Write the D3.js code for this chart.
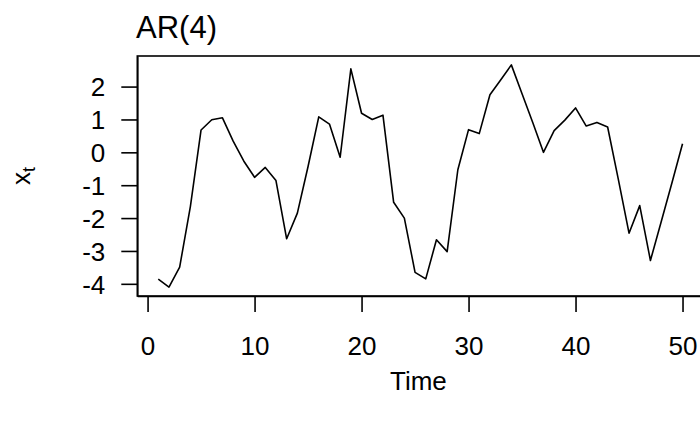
<!DOCTYPE html>
<html>
<head>
<meta charset="utf-8">
<script src="https://cdn.jsdelivr.net/npm/d3@7"></script>
<style>
  html, body { margin: 0; padding: 0; background: #fff; }
  svg { display: block; font-family: "Liberation Sans", Arial, Helvetica, sans-serif; }
</style>
</head>
<body>
<svg id="chart" width="700" height="422"></svg>
<script>
const title = "AR(4)";
const xLabel = "Time";
const time = d3.range(1, 51);
const values = [
  -3.86, -4.10, -3.49, -1.65, 0.68, 0.99, 1.05, 0.34, -0.27, -0.76,
  -0.46, -0.86, -2.63, -1.85, -0.43, 1.08, 0.86, -0.15, 2.54, 1.19,
  1.00, 1.13, -1.52, -2.00, -3.65, -3.85, -2.66, -3.02, -0.53, 0.69,
  0.57, 1.75, 2.20, 2.66, 1.78, 0.91, 0.00, 0.66, 0.98, 1.35,
  0.80, 0.91, 0.77, -0.82, -2.46, -1.62, -3.29, -2.12, -0.94, 0.26
];
const xTicks = [0, 10, 20, 30, 40, 50];
const yTicks = [-4, -3, -2, -1, 0, 1, 2];

const svg = d3.select("#chart");
const pL = 137.3, pR = 703.5, pT = 56, pB = 296;
const lw = 1.6, fs = 26;

function ext(a) {
  const [mn, mx] = d3.extent(a);
  const r = mx - mn;
  return [mn - 0.04 * r, mx + 0.04 * r];
}
const x = d3.scaleLinear().domain(ext(time)).range([pL, pR]);
const y = d3.scaleLinear().domain(ext(values)).range([pB, pT]);

// box
svg.append("rect")
  .attr("x", pL).attr("y", pT)
  .attr("width", pR - pL).attr("height", pB - pT)
  .attr("fill", "none").attr("stroke", "#000").attr("stroke-width", lw);

// series line
const data = time.map((t, i) => [t, values[i]]);
svg.append("path")
  .datum(data)
  .attr("d", d3.line().x(d => x(d[0])).y(d => y(d[1])))
  .attr("fill", "none").attr("stroke", "#000")
  .attr("stroke-width", lw).attr("stroke-linejoin", "round");

const fmt = d => String(d);

// x axis
const xa = svg.append("g").attr("transform", `translate(0,${pB})`)
  .call(d3.axisBottom(x).tickValues(xTicks).tickFormat(fmt).tickSize(16).tickSizeOuter(0).tickPadding(0));
xa.select(".domain").attr("stroke-width", lw);
xa.selectAll(".tick line").attr("stroke-width", lw);
xa.selectAll(".tick text").attr("y", 59).attr("dy", null)
  .attr("font-size", fs).attr("font-family", "Liberation Sans, Arial, sans-serif").attr("fill", "#000");

// y axis
const ya = svg.append("g").attr("transform", `translate(${pL},0)`)
  .call(d3.axisLeft(y).tickValues(yTicks).tickFormat(fmt).tickSize(16).tickSizeOuter(0).tickPadding(0));
ya.select(".domain").attr("stroke-width", lw);
ya.selectAll(".tick line").attr("stroke-width", lw);
ya.selectAll(".tick text").attr("x", -32).attr("dy", "0.36em")
  .attr("font-size", fs).attr("font-family", "Liberation Sans, Arial, sans-serif").attr("fill", "#000");

// title
svg.append("text").attr("x", 136).attr("y", 38)
  .attr("font-size", 31).attr("fill", "#000").text(title);

// x label
svg.append("text").attr("x", (pL + pR) / 2 - 2).attr("y", 390)
  .attr("text-anchor", "middle").attr("font-size", fs).attr("fill", "#000").text(xLabel);

// y label x_t
const yl = svg.append("text")
  .attr("transform", `translate(30,${(pT + pB) / 2}) rotate(-90)`)
  .attr("text-anchor", "middle").attr("font-size", fs).attr("fill", "#000");
yl.append("tspan").text("x");
yl.append("tspan").attr("font-size", 18).attr("dy", 5).text("t");
</script>
</body>
</html>
